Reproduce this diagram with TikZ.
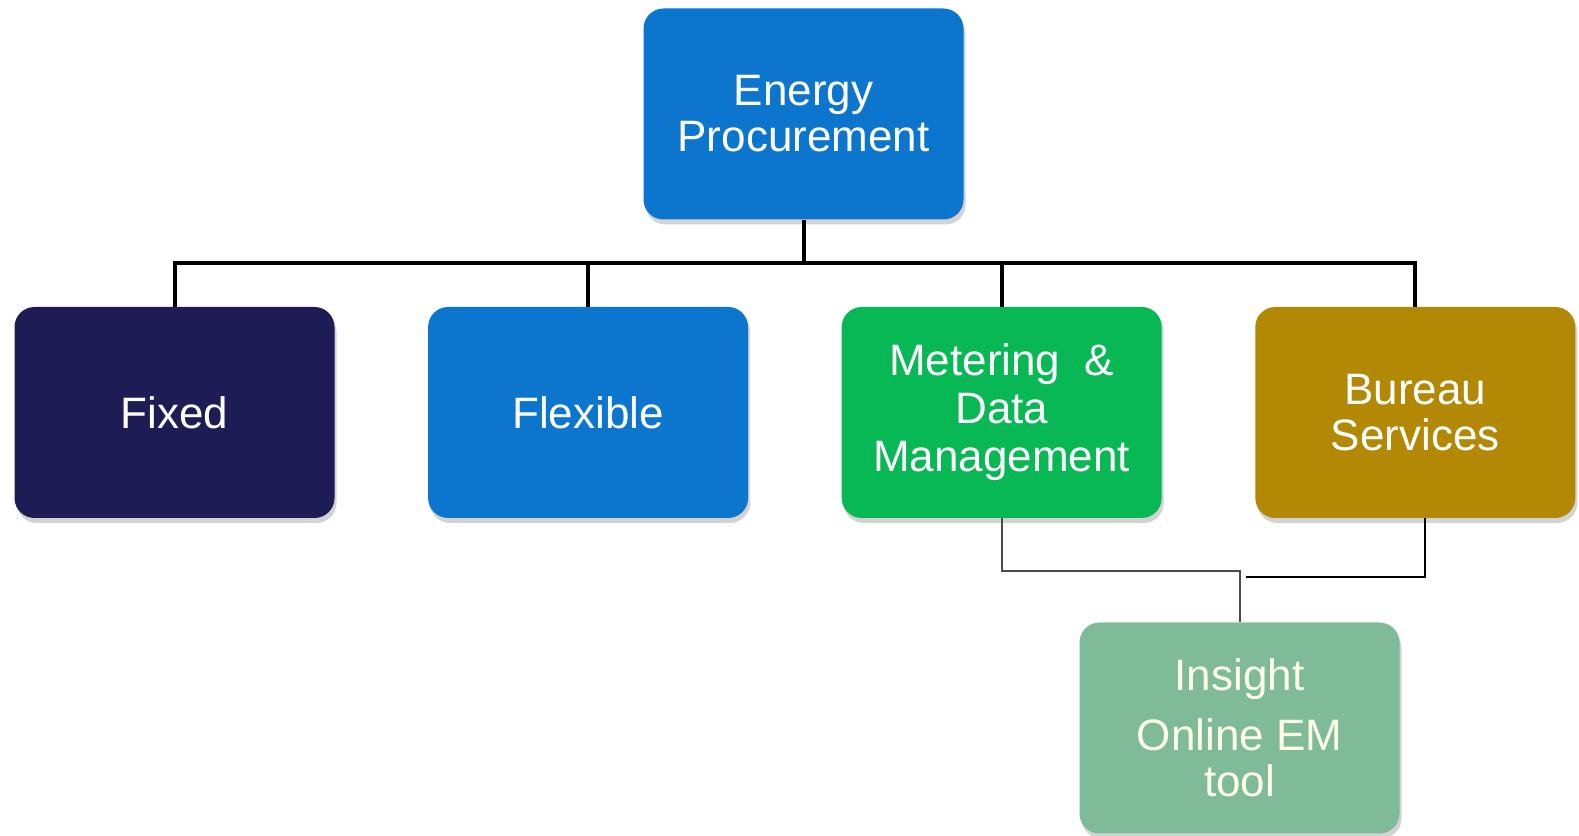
\documentclass[tikz,border=0pt]{standalone}
\usepackage{fontspec}
\setmainfont{Liberation Sans}
\usetikzlibrary{positioning,shadows}

\definecolor{procblue}{RGB}{12,118,206}
\definecolor{fixednavy}{RGB}{30,28,85}
\definecolor{metergreen}{RGB}{8,184,85}
\definecolor{bureaugold}{RGB}{178,136,4}
\definecolor{insightsage}{RGB}{127,187,152}

\begin{document}
\begin{tikzpicture}[
        x=0.5pt, y=0.5pt,
        node distance=46.4pt,
        box/.style={rectangle, rounded corners=10pt, text centered, align=center, text=white,
            minimum height=105.5pt, minimum width=160pt, inner sep=0pt,
            font=\fontsize{22}{23}\selectfont,
            drop shadow={opacity=0.35, shadow xshift=1pt, shadow yshift=-2.5pt}},
        bus/.style={draw, line width=2pt},
        feed/.style={draw, line width=1pt}
    ]
    \useasboundingbox (0,0) rectangle (1579,835);

    % nodes
    \node[box, fill=procblue] (proc) at (803.5,721) {Energy\\Procurement};
    \node[box, fill=fixednavy] (fixed) at (174.5,422.5) {Fixed};
    \node[box, fill=procblue, right=of fixed] (flexible) {Flexible};
    \node[box, fill=metergreen, right=of flexible, font=\fontsize{22}{24}\selectfont] (metering) {Metering \ \&\\Data\\Management};
    \node[box, fill=bureaugold, right=of metering] (bureau) {Bureau\\Services};
    \node[box, fill=insightsage, text={white!90!yellow}] (insight) at (1239.5,107) {Insight\\[7pt]Online EM\\tool};

    % lines
    \coordinate (busline) at ([yshift=-21.5pt]proc.south);
    \path[bus] (proc.south) -- (busline);
    \path[bus] (fixed.north) |- (busline) -| (bureau.north);
    \path[bus] (flexible.north) -- (flexible.north |- busline);
    \path[bus] (metering.north) -- (metering.north |- busline);
    \path[feed, draw=black!70] (metering.south) -- ++(0,-52.5) -| (insight.north);
    \path[feed] ([xshift=5pt]bureau.south) |- ([xshift=3pt,yshift=22.5pt]insight.north);

\end{tikzpicture}
\end{document}
